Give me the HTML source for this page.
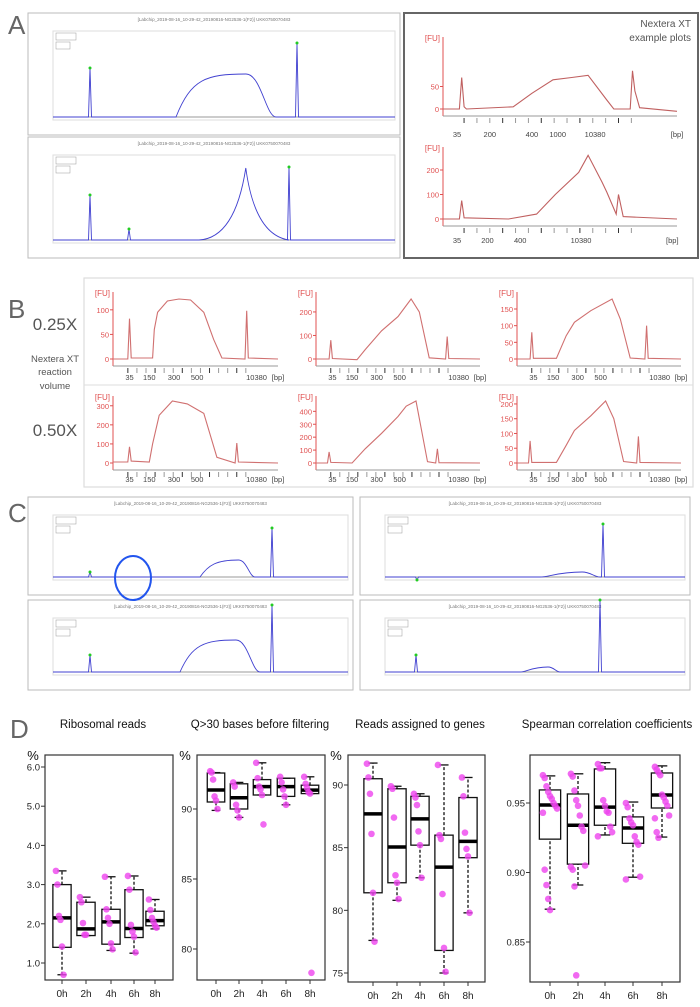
<!DOCTYPE html>
<html><head><meta charset="utf-8"><style>
body{margin:0;background:#fff;font-family:"Liberation Sans",sans-serif}
svg{display:block}
</style></head><body>
<svg id="fig" width="700" height="1007" viewBox="0 0 700 1007" xmlns="http://www.w3.org/2000/svg" font-family="Liberation Sans, sans-serif">
<rect width="700" height="1007" fill="#fff"/>
<text x="8" y="34" font-size="26" fill="#666">A</text>
<text x="8" y="318" font-size="26" fill="#666">B</text>
<text x="8" y="522" font-size="26" fill="#666">C</text>
<text x="10" y="738" font-size="26" fill="#666">D</text>
<g id="gA"></g>
<g id="gB"></g>
<g id="gC"></g>
<g id="gD"></g>
</svg>
<script>
// ---------- Panel D data ----------
const dCategories = ["0h","2h","4h","6h","8h"];
const riboStats = [[0.7,1.4,2.15,3.0,3.35],[1.7,1.7,1.87,2.55,2.68],[1.32,1.48,2.05,2.37,3.2],[1.25,1.65,1.88,2.87,3.22],[1.87,1.95,2.08,2.32,2.62]];
const riboPoints = [[3.35,3.0,2.2,2.1,1.42,0.7],[2.68,2.55,2.02,1.72,1.72],[3.2,2.37,2.15,2.0,1.5,1.35],[3.22,2.87,1.97,1.8,1.67,1.27],[2.62,2.35,2.15,2.05,1.95,1.9]];
const riboTicks = ["1.0","2.0","3.0","4.0","5.0","6.0"];
const q30Stats = [[89.9,90.5,91.36,92.57,92.6],[89.4,90.0,90.8,91.8,91.9],[91.0,91.0,91.6,92.1,93.3],[90.3,90.9,91.6,92.2,92.2],[91.1,91.1,91.35,91.7,92.3]];
const q30Points = [[92.7,92.6,92.1,90.9,90.6,90.0],[91.9,91.6,90.3,89.9,89.4],[93.3,92.2,91.6,91.4,91.0,88.9],[92.3,91.9,91.4,90.9,90.3],[92.3,91.8,91.5,91.2,91.1,78.3]];
const q30Ticks = ["80","85","90"];
const genesStats = [[77.6,81.4,87.7,90.5,91.75],[80.8,82.2,85.05,89.7,89.9],[82.6,85.2,87.3,89.1,89.3],[75.0,76.8,83.45,86.0,91.6],[79.8,84.2,85.5,89.0,90.6]];
const genesPoints = [[91.7,90.6,89.3,86.1,81.4,77.5],[89.9,89.7,87.4,82.8,82.2,80.9],[89.3,89.0,88.4,86.3,85.2,82.6],[91.6,86.0,85.7,81.3,77.0,75.1],[90.6,89.1,86.2,84.9,84.3,79.8]];
const genesTicks = ["75","80","85","90"];
const spearStats = [[0.8736,0.924,0.9486,0.9594,0.9695],[0.891,0.906,0.934,0.9565,0.971],[0.927,0.934,0.947,0.9745,0.979],[0.8966,0.921,0.932,0.940,0.9507],[0.9255,0.9464,0.9558,0.9716,0.9767]];
const spearPoints = [[0.970,0.968,0.962,0.958,0.955,0.953,0.950,0.948,0.946,0.943,0.902,0.891,0.881,0.873],[0.971,0.969,0.959,0.952,0.948,0.941,0.933,0.930,0.905,0.904,0.902,0.890,0.826],[0.978,0.975,0.975,0.952,0.948,0.944,0.943,0.933,0.929,0.926],[0.950,0.947,0.939,0.936,0.934,0.926,0.922,0.920,0.897,0.895],[0.976,0.974,0.972,0.970,0.956,0.954,0.951,0.948,0.941,0.939,0.929,0.925]];
const spearTicks = ["0.85","0.90","0.95"];

// ---------- Panel B data (fraction of width, FU value) ----------
const bTitles = ["0.25x-1","0.25x-2","0.25x-3","0.50x-1","0.50x-2","0.50x-3"];
const bTraceX = [
 [0,0.09,0.10,0.11,0.24,0.25,0.27,0.33,0.40,0.47,0.55,0.61,0.66,0.80,0.81,0.82,1],
 [0,0.08,0.09,0.10,0.25,0.30,0.40,0.50,0.58,0.63,0.69,0.79,0.80,0.81,1],
 [0,0.08,0.09,0.10,0.24,0.30,0.35,0.45,0.58,0.63,0.69,0.78,0.79,0.80,1],
 [0,0.09,0.10,0.11,0.22,0.24,0.28,0.36,0.45,0.55,0.63,0.74,0.75,0.76,1],
 [0,0.07,0.08,0.09,0.22,0.30,0.40,0.50,0.55,0.61,0.68,0.73,0.74,0.75,1],
 [0,0.07,0.08,0.09,0.24,0.30,0.35,0.45,0.54,0.59,0.65,0.73,0.74,0.75,1]];
const bTraceY = [
 [0,0,82,2,2,60,95,118,122,120,95,40,2,0,98,2,0],
 [0,0,80,2,-3,40,120,180,255,200,5,0,95,2,0],
 [0,0,80,2,2,70,110,145,180,120,3,0,100,2,0],
 [5,5,85,10,5,100,250,325,310,260,30,0,105,5,0],
 [0,0,85,5,0,110,230,360,440,480,10,0,110,2,0],
 [0,0,75,2,2,60,110,160,210,150,5,0,90,2,0]];
const bYTicks = [[0,50,100],[0,100,200],[0,50,100,150],[0,100,200,300],[0,100,200,300,400],[0,50,100,150,200]];
const bYMax = [122,255,180,325,480,210];
const bXLabels = ["35","150","300","500","10380","[bp]"];
const bXLabelPos = [0.10,0.22,0.37,0.51,0.87,1.0];

// ---------- Panel A right data ----------
const aTraceX = [
 [0,0.07,0.08,0.09,0.10,0.30,0.38,0.47,0.55,0.62,0.70,0.73,0.80,0.81,0.82,0.84,1],
 [0,0.07,0.08,0.09,0.28,0.40,0.48,0.58,0.62,0.68,0.70,0.74,0.75,0.77,1]];
const aTraceY = [
 [0,0,70,5,0,5,35,65,70,75,20,0,0,85,40,3,-5],
 [0,0,75,5,0,20,100,190,260,150,110,20,100,10,0]];
const aYTicks = [[0,50],[0,100,200]];
const aYMax = [80,265];

const NS="http://www.w3.org/2000/svg";
function el(parent,tag,attrs,text){const e=document.createElementNS(NS,tag);for(const k in attrs)e.setAttribute(k,attrs[k]);if(text!==undefined)e.textContent=text;parent.appendChild(e);return e;}

// ---------- Panel D ----------
const gD=document.getElementById('gD');
function boxPlot(cfg){
  const {x0,x1,y0,y1,vTop,yTop,vBot,yBot,cx,stats,pts,ticks,title,titleX,name,unit}=cfg;
  const g=el(gD,'g',{});
  
  
  const y=v=>yBot+(v-vBot)*(yTop-yBot)/(vTop-vBot);
  const t=el(g,'text',{x:titleX,y:728,'font-size':11.5,'text-anchor':'middle',fill:'#111'},title);
  
  
  el(g,'rect',{x:x0,y:y0,width:x1-x0,height:y1-y0,fill:'none',stroke:'#333','stroke-width':1.2});
  if(unit){
    const pc=el(g,'text',{x:x0-12,y:y0+5,'font-size':13,'text-anchor':'middle',fill:'#111'},'%');
    
    
  }
  ticks.forEach(tk=>{const yy=y(parseFloat(tk));
    el(g,'line',{x1:x0-4,x2:x0,y1:yy,y2:yy,stroke:'#333'});
    const tl=el(g,'text',{x:x0-5,y:yy+3.5,'font-size':9.5,'text-anchor':'end',fill:'#222'},tk);
    
    
  });
  dCategories.forEach((c,i)=>{
    const X=cx[i];const s=stats[i];const hw=(cx[1]-cx[0])*0.38;
    el(g,'line',{x1:X,x2:X,y1:y(s[0]),y2:y(s[1]),stroke:'#111','stroke-dasharray':'3,2','stroke-width':1.3});
    el(g,'line',{x1:X,x2:X,y1:y(s[3]),y2:y(s[4]),stroke:'#111','stroke-dasharray':'3,2','stroke-width':1.3});
    el(g,'line',{x1:X-hw*0.5,x2:X+hw*0.5,y1:y(s[0]),y2:y(s[0]),stroke:'#111','stroke-width':1.3});
    el(g,'line',{x1:X-hw*0.5,x2:X+hw*0.5,y1:y(s[4]),y2:y(s[4]),stroke:'#111','stroke-width':1.3});
    const b=el(g,'rect',{x:X-hw,y:y(s[3]),width:2*hw,height:y(s[1])-y(s[3]),fill:'none',stroke:'#111','stroke-width':1.3});
    
    
    el(g,'line',{x1:X-hw,x2:X+hw,y1:y(s[2]),y2:y(s[2]),stroke:'#000','stroke-width':3.5});
    pts[i].forEach((v,j)=>{const jit=((j*37)%9-4)*hw/6;
      const p=el(g,'circle',{cx:X+jit,cy:y(v),r:3.3,fill:'#ee44ee','fill-opacity':0.8});
      
      
    });
    el(g,'line',{x1:X,x2:X,y1:y1,y2:y1+4,stroke:'#333'});
    const xl=el(g,'text',{x:X,y:y1+17,'font-size':10,'text-anchor':'middle',fill:'#222'},c);
    
    
  });
}
boxPlot({x0:45,x1:173,y0:755,y1:980,vTop:6,yTop:767,vBot:1,yBot:963,cx:[62,86,111,134,155],stats:riboStats,pts:riboPoints,ticks:riboTicks,title:'Ribosomal reads',titleX:103,name:'ribosomal-reads-plot',unit:true});
boxPlot({x0:197,x1:325,y0:755,y1:980,vTop:90,yTop:809,vBot:80,yBot:949,cx:[216,239,262,286,310],stats:q30Stats,pts:q30Points,ticks:q30Ticks,title:'Q>30 bases before filtering',titleX:260,name:'q30-plot',unit:true});
boxPlot({x0:348,x1:485,y0:755,y1:982,vTop:90,yTop:785,vBot:75,yBot:973,cx:[373,397,420,444,468],stats:genesStats,pts:genesPoints,ticks:genesTicks,title:'Reads assigned to genes',titleX:420,name:'reads-genes-plot',unit:true});
boxPlot({x0:530,x1:680,y0:755,y1:982,vTop:0.95,yTop:803,vBot:0.85,yBot:942,cx:[550,578,605,633,662],stats:spearStats,pts:spearPoints,ticks:spearTicks,title:'Spearman correlation coefficients',titleX:607,name:'spearman-plot',unit:false});

// ---------- Fluorescence trace helper ----------
function fuPlot(g,ax,ay0,axEnd,yZero,ymaxPix,vmax,fx,fy,yt,labels,labPos,labY,name,color){
  const sg=el(g,'g',{});
  
  
  const W=axEnd-ax;
  const Y=v=>yZero-(v/vmax)*(yZero-ymaxPix);
  el(sg,'line',{x1:ax,x2:ax,y1:ay0,y2:yZero+7,stroke:'#e05050','stroke-width':1});
  el(sg,'line',{x1:ax,x2:axEnd,y1:yZero+7,y2:yZero+7,stroke:'#999','stroke-width':1});
  const fu=el(sg,'text',{x:ax-3,y:ay0+4,'font-size':8,'text-anchor':'end',fill:'#e05050'},'[FU]');
  
  
  yt.forEach(v=>{el(sg,'line',{x1:ax-3,x2:ax,y1:Y(v),y2:Y(v),stroke:'#e05050'});
    const t=el(sg,'text',{x:ax-4,y:Y(v)+3,'font-size':7.5,'text-anchor':'end',fill:'#e05050'},String(v));
    
    });
  for(let k=0;k<14;k++){const xx=ax+W*(0.09+k*0.055);el(sg,'line',{x1:xx,x2:xx,y1:yZero+9,y2:yZero+14,stroke:k%3?'#999':'#333'});}
  labels.forEach((l,i)=>{const t=el(sg,'text',{x:ax+W*labPos[i],y:labY,'font-size':7.5,'text-anchor':'middle',fill:'#444'},l);
    
    });
  const d=fx.map((f,i)=>(i?'L':'M')+(ax+W*f).toFixed(1)+','+Y(fy[i]).toFixed(1)).join('');
  const p=el(sg,'path',{d:d,fill:'none',stroke:color,'stroke-width':1.1});
  
  
}

// ---------- Panel A ----------
const gA=document.getElementById('gA');
function instrPlot(g,x0,y0,x1,y1,peaks,name){
  const sg=el(g,'g',{});
  
  
  el(sg,'rect',{x:x0,y:y0,width:x1-x0,height:y1-y0,fill:'#fff',stroke:'#bbb'});
  el(sg,'text',{x:(x0+x1)/2,y:y0+8,'font-size':4.5,'text-anchor':'middle',fill:'#777'},'[Labchip_2019-08-16_10-29-42_20190816-NG2536-1(F2)] UKK0750070483');
  const px0=x0+25,px1=x1-5,py0=y0+18,py1=y1-15;
  el(sg,'rect',{x:px0,y:py0,width:px1-px0,height:py1-py0,fill:'none',stroke:'#ddd'});
  el(sg,'rect',{x:px0+3,y:py0+2,width:20,height:7,fill:'#fff',stroke:'#999','stroke-width':0.5});
  el(sg,'rect',{x:px0+3,y:py0+11,width:14,height:7,fill:'#fff',stroke:'#999','stroke-width':0.5});
  el(sg,'line',{x1:px0,x2:px1,y1:py1-3,y2:py1-3,stroke:'#333','stroke-width':0.5});
  const base=py1-3;
  let d='M'+px0+','+base;
  peaks.forEach(p=>{ const w=p[2];
    if(w===0){d+=`L${p[0]-1.5},${base}L${p[0]},${p[1]}L${p[0]+1.5},${base}`;}
    else if(p[3]==='sharp'){d+=`L${p[0]},${base}Q${p[0]+w*0.4},${base-2} ${p[0]+w*0.52},${p[1]}Q${p[0]+w*0.62},${base-5} ${p[0]+w},${base}`;}
    else {d+=`L${p[0]},${base}C${p[0]+w*0.15},${p[1]+5} ${p[0]+w*0.3},${p[1]} ${p[0]+w*0.7},${p[1]}C${p[0]+w*0.85},${p[1]} ${p[0]+w*0.9},${base} ${p[0]+w},${base}`;}});
  d+='L'+px1+','+base;
  const tr=el(sg,'path',{d:d,fill:'none',stroke:'#4040d0','stroke-width':0.9});
  
  
  peaks.forEach(p=>{ if(p[2]===0) el(sg,'circle',{cx:p[0],cy:p[1],r:1.5,fill:'#2c2'}); });
}
instrPlot(gA,28,13,400,135,[[90,68,0],[176,74,100],[297,43,0]],'electropherogram-a-top');
instrPlot(gA,28,137,400,258,[[90,195,0],[129,229,0],[199,168,90,'sharp'],[289,167,0]],'electropherogram-a-bottom');
el(gA,'rect',{x:404,y:13,width:294,height:245,fill:'none',stroke:'#666','stroke-width':2});
const nx1=el(gA,'text',{x:691,y:27,'font-size':10,'text-anchor':'end',fill:'#555'},'Nextera XT');


el(gA,'text',{x:691,y:41,'font-size':10,'text-anchor':'end',fill:'#555'},'example plots');
const aLab1=["35","200","400","1000","10380","[bp]"], aPos1=[0.06,0.2,0.38,0.49,0.65,1.0];
const aLab2=["35","200","400","10380","[bp]"], aPos2=[0.06,0.19,0.33,0.59,0.98];
fuPlot(gA,443,37,677,109,73,80,aTraceX[0],aTraceY[0],aYTicks[0],aLab1,aPos1,137,'nextera-example-top','#c06060');
fuPlot(gA,443,147,677,219,170,200,aTraceX[1],aTraceY[1],aYTicks[1],aLab2,aPos2,243,'nextera-example-bottom','#c06060');

// ---------- Panel B ----------
const gB=document.getElementById('gB');
el(gB,'rect',{x:84,y:278,width:609,height:209,fill:'none',stroke:'#ddd','stroke-width':1.2});
el(gB,'line',{x1:84,x2:693,y1:385,y2:385,stroke:'#ddd'});
[['0.25X',55,330,17],['Nextera XT',55,362,9.5],['reaction',55,375,9.5],['volume',55,389,9.5],['0.50X',55,436,17]].forEach(r=>{
  const t=el(gB,'text',{x:r[1],y:r[2],'font-size':r[3],'text-anchor':'middle',fill:'#555'},r[0]);
  
  
});
const bCols=[[113,278],[316,480],[517,681]];
const bRows=[{top:292,zero:359,max:299,lab:380},{top:396,zero:463,max:401,lab:482}];
for(let i=0;i<6;i++){
  const c=bCols[i%3],r=bRows[Math.floor(i/3)];
  fuPlot(gB,c[0],r.top,c[1],r.zero,r.max,bYMax[i],bTraceX[i],bTraceY[i],bYTicks[i],bXLabels,bXLabelPos,r.lab,'bioanalyzer-'+bTitles[i],'#d07070');
}

// ---------- Panel C ----------
const gC=document.getElementById('gC');
instrPlot(gC,28,497,353,595,[[90,572,0],[200,560,55],[272,528,0]],'electropherogram-c1');
instrPlot(gC,360,497,690,595,[[417,580,0],[540,572,60],[603,524,0]],'electropherogram-c2');
instrPlot(gC,28,600,353,690,[[90,655,0],[180,640,80],[272,605,0]],'electropherogram-c3');
instrPlot(gC,360,600,690,690,[[416,655,0],[520,667,40],[600,600,0]],'electropherogram-c4');
const circ=el(gC,'ellipse',{cx:133,cy:578,rx:18,ry:22,fill:'none',stroke:'#2255ee','stroke-width':2});


</script>
</body></html>
